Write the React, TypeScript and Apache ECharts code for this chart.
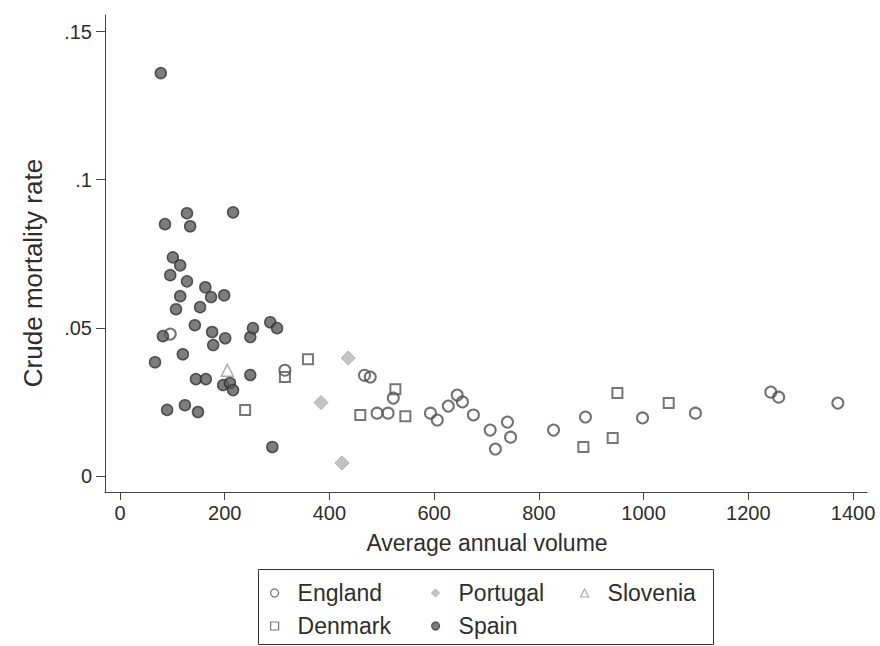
import React, { useEffect, useRef } from "react";
import * as echarts from "echarts";

// Average annual volume (x) vs crude mortality rate (y)
const england: [number, number][] = [
  [96, 0.0479], [315, 0.0357], [467, 0.034], [478, 0.0334], [491, 0.0212],
  [512, 0.0212], [522, 0.0263], [593, 0.0212], [606, 0.0189], [627, 0.0236],
  [644, 0.0273], [654, 0.025], [675, 0.0206], [707, 0.0155], [740, 0.0182],
  [746, 0.0131], [717, 0.0091], [828, 0.0155], [889, 0.0199], [998, 0.0196],
  [1099, 0.0212], [1243, 0.0283], [1258, 0.0266], [1371, 0.0246],
];

const portugal: [number, number][] = [
  [436, 0.0398], [384, 0.0248], [424, 0.0044],
];

const slovenia: [number, number][] = [[205, 0.0357]];

const denmark: [number, number][] = [
  [239, 0.0223], [359, 0.0394], [315, 0.0334], [459, 0.0206], [545, 0.0202],
  [526, 0.0293], [885, 0.0098], [950, 0.028], [1048, 0.0246], [941, 0.0128],
];

const spain: [number, number][] = [
  [78, 0.136], [86, 0.085], [128, 0.0887], [134, 0.0843], [216, 0.089],
  [101, 0.0738], [115, 0.0711], [96, 0.0678], [128, 0.0657], [163, 0.0637],
  [174, 0.0604], [199, 0.061], [115, 0.0607], [107, 0.0563], [153, 0.057],
  [82, 0.0472], [67, 0.0384], [120, 0.0411], [143, 0.0509], [176, 0.0486],
  [201, 0.0465], [178, 0.0442], [249, 0.0469], [254, 0.0499], [287, 0.0519],
  [300, 0.0499], [145, 0.0327], [164, 0.0327], [197, 0.0307], [210, 0.0314],
  [216, 0.029], [249, 0.0341], [90, 0.0223], [124, 0.0239], [149, 0.0216],
  [291, 0.0098],
];

const xTicks = [0, 200, 400, 600, 800, 1000, 1200, 1400];
const yTicks = [0, 0.05, 0.1, 0.15];
const xTitle = "Average annual volume";
const yTitle = "Crude mortality rate";

const FONT = "'Liberation Sans', Arial, Helvetica, sans-serif";
const TXT = "#2e2e2e";

export default function App() {
  const ref = useRef<HTMLDivElement>(null);

  useEffect(() => {
    if (!ref.current) return;
    const chart = echarts.init(ref.current, null, { renderer: "svg" });

    const styles: Record<string, any> = {
      England: { symbol: "circle", size: 11, item: { color: "rgba(255,255,255,0)", borderColor: "#4d4d4d", borderWidth: 2 } },
      Portugal: { symbol: "diamond", size: 14, item: { color: "#b4b4b4", borderColor: "#a2a2a2", borderWidth: 1 } },
      Slovenia: { symbol: "triangle", size: 12, item: { color: "rgba(255,255,255,0)", borderColor: "#999", borderWidth: 1.5 } },
      Denmark: { symbol: "rect", size: 10, item: { color: "rgba(255,255,255,0)", borderColor: "#555", borderWidth: 2 } },
      Spain: { symbol: "circle", size: 11, item: { color: "#5c5c5c", borderColor: "#333", borderWidth: 1.5 } },
    };

    const seriesData: [string, [number, number][]][] = [
      ["England", england],
      ["Portugal", portugal],
      ["Slovenia", slovenia],
      ["Denmark", denmark],
      ["Spain", spain],
    ];

    const legendPos: Record<string, [number, number]> = {
      England: [270, 581],
      Portugal: [431, 581],
      Slovenia: [580, 581],
      Denmark: [270, 614],
      Spain: [431, 614],
    };

    const legends = seriesData.map(([name]) => {
      const s = styles[name];
      return {
        show: true,
        data: [{ name, icon: s.symbol }],
        left: legendPos[name][0],
        top: legendPos[name][1],
        padding: 0,
        itemWidth: 8,
        itemHeight: 8,
        selectedMode: false,
        itemStyle: { ...s.item, borderWidth: Math.min(1.2, s.item.borderWidth) },
        textStyle: { fontFamily: FONT, fontSize: 23, color: TXT, lineHeight: 24, padding: [0, 0, 0, 14] },
      };
    });

    chart.setOption({
      animation: false,
      backgroundColor: "#fff",
      grid: { left: 105, right: 13, top: 15, bottom: 154 },
      xAxis: {
        type: "value",
        min: -28.6,
        max: 1426.7,
        axisLine: { show: true, onZero: false, lineStyle: { color: "#444", width: 1 } },
        axisTick: { show: true, customValues: xTicks, length: 8, lineStyle: { color: "#444" } },
        axisLabel: {
          customValues: xTicks,
          margin: 11,
          fontFamily: FONT,
          fontSize: 20,
          color: TXT,
          formatter: (v: number) => String(v),
        },
        splitLine: { show: false },
      },
      yAxis: {
        type: "value",
        min: -0.0054,
        max: 0.1556,
        axisLine: { show: true, onZero: false, lineStyle: { color: "#444", width: 1 } },
        axisTick: { show: true, customValues: yTicks, length: 9, lineStyle: { color: "#444" } },
        axisLabel: {
          customValues: yTicks,
          margin: 13,
          fontFamily: FONT,
          fontSize: 20,
          color: TXT,
          formatter: (v: number) => (v === 0 ? "0" : String(v).replace(/^0\./, ".")),
        },
        splitLine: { show: false },
      },
      legend: legends,
      graphic: [
        {
          type: "text",
          x: 33,
          y: 273,
          rotation: Math.PI / 2,
          style: { text: yTitle, fontFamily: FONT, fontSize: 26, fill: TXT, align: "center", verticalAlign: "middle" },
        },
        {
          type: "text",
          x: 487,
          y: 543,
          style: { text: xTitle, fontFamily: FONT, fontSize: 23, fill: TXT, align: "center", verticalAlign: "middle" },
        },
        {
          type: "rect",
          shape: { x: 258.5, y: 569.5, width: 455, height: 75 },
          style: { fill: "none", stroke: "#333", lineWidth: 1 },
          z: -1,
        },
      ],
      series: seriesData.map(([name, data]) => ({
        name,
        type: "scatter",
        data,
        symbol: styles[name].symbol,
        symbolSize: styles[name].size,
        itemStyle: styles[name].item,
        emphasis: { disabled: true },
      })),
    });

    return () => chart.dispose();
  }, []);

  return (
    <div
      ref={ref}
      style={{ position: "fixed", left: 0, top: 0, width: 880, height: 646, background: "#fff" }}
    />
  );
}
